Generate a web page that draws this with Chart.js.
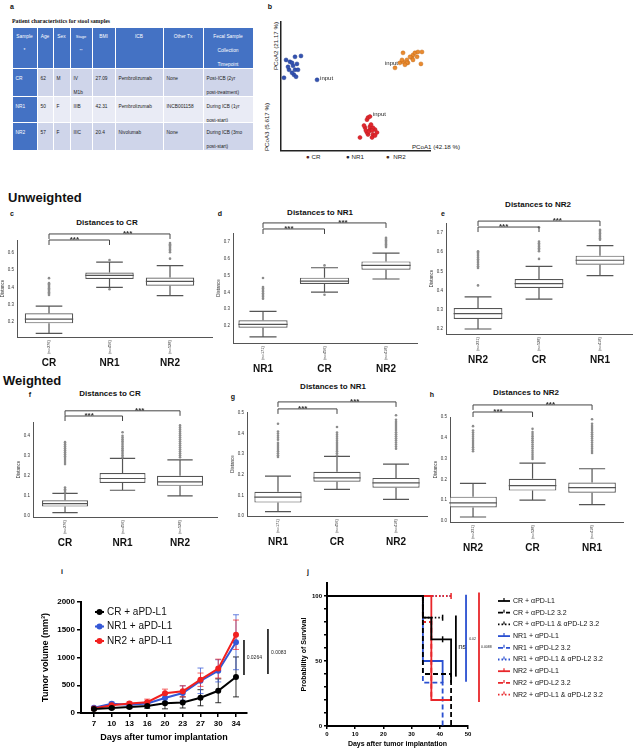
<!DOCTYPE html>
<html lang="en">
<head>
<meta charset="utf-8">
<title>Stool samples figure</title>
<script src="https://cdn.jsdelivr.net/npm/chart.js@4.4.1/dist/chart.umd.min.js"></script>
<style>
  body { margin: 0; width: 633px; height: 750px; position: relative; overflow: hidden; background: #fff;
         font-family: 'Liberation Sans', Arial, sans-serif; color: #111; }
  canvas { position: absolute; }
  .txt { position: absolute; white-space: nowrap; transform: translate(-50%, -50%); line-height: 1; }
  .esq { position: absolute; white-space: nowrap; transform: translateY(-50%); line-height: 1; }
  .rot { transform: translate(-50%, -50%) rotate(-90deg); }
  .letra { font-weight: bold; font-size: 7px; }
  .titulo { font-weight: bold; font-size: 8px; }
  .secao { font-weight: bold; font-size: 13px; }
  .pcoa { font-size: 6.2px; color: #222; }
  .cel { position: absolute; overflow: hidden; box-sizing: border-box; font-size: 4.8px; line-height: 14px;
         padding: 3px 0 0 3px; color: #222; white-space: nowrap; }
  .cab { color: #fff; text-align: center; padding: 2px 1px 0; }
</style>
</head>
<body>
<div class="txt letra" style="left:12px;top:6px">a</div>
<div class="txt letra" style="left:270px;top:6px">b</div>
<div class="esq" style="left:12px;top:21px;font:bold 5.8px 'Liberation Serif',serif">Patient characteristics for stool samples</div>

<div class="txt pcoa rot" style="left:276px;top:46px">PCoA2 (21.17 %)</div>
<div class="txt pcoa rot" style="left:267px;top:127px">PCoA3 (5.617 %)</div>
<div class="txt pcoa" style="left:436px;top:147px">PCoA1 (42.18 %)</div>
<div class="esq pcoa" style="left:306px;top:157px"><span style="color:#5a1d1d">&#9679;</span> CR</div>
<div class="esq pcoa" style="left:346px;top:157px"><span style="color:#1b1f3a">&#9679;</span> NR1</div>
<div class="esq pcoa" style="left:386px;top:157px"><span style="color:#4a2a14">&#9679;</span>&nbsp; NR2</div>

<div class="esq secao" style="left:8px;top:197px">Unweighted</div>
<div class="esq secao" style="left:3px;top:380px">Weighted</div>

<div class="txt letra" style="left:12px;top:213px">c</div>
<div class="txt letra" style="left:220px;top:213px">d</div>
<div class="txt letra" style="left:443px;top:213px">e</div>
<div class="txt letra" style="left:30px;top:394px">f</div>
<div class="txt letra" style="left:233px;top:396px">g</div>
<div class="txt letra" style="left:432px;top:394px">h</div>
<div class="txt letra" style="left:62px;top:571px">i</div>
<div class="txt letra" style="left:308px;top:571px">j</div>

<div class="txt titulo" style="left:107px;top:223px">Distances to CR</div>
<div class="txt titulo" style="left:320px;top:213px">Distances to NR1</div>
<div class="txt titulo" style="left:538px;top:205px">Distances to NR2</div>
<div class="txt titulo" style="left:110px;top:394px">Distances to CR</div>
<div class="txt titulo" style="left:333px;top:387px">Distances to NR1</div>
<div class="txt titulo" style="left:526px;top:393px">Distances to NR2</div>

<script>
// ---------- panel a: table ----------
const tabX = [12, 37, 53, 70, 92, 115, 163, 203, 253];
const tabY = [27, 68, 96, 122, 150];
const tabCab = ['Sample<br>*', 'Age', 'Sex', '<span style="font-size:4px;line-height:12px">Stage<br>**</span>', 'BMI', 'ICB', 'Other Tx', 'Fecal Sample<br>Collection<br>Timepoint'];
const tabLinhas = [
  ['CR', '62', 'M', 'IV<br>M1b', '27.09', 'Pembrolizumab', 'None', 'Post-ICB (2yr<br>post-treatment)'],
  ['NR1', '50', 'F', 'IIIB', '42.31', 'Pembrolizumab', 'INCB001158', 'During ICB (1yr<br>post-start)'],
  ['NR2', '57', 'F', 'IIIC', '20.4', 'Nivolumab', 'None', 'During ICB (3mo<br>post-start)']
];

// ---------- panel b: PCoA ----------
const pcoaCR = [[2.0, 56.6], [6.0, 69.0], [7.4, 68.2], [8.1, 65.9], [9.4, 62.8], [5.4, 62.8], [8.7, 58.9], [10.1, 57.4],
  [11.4, 62.8], [13.4, 73.6], [9.4, 72.9], [4.7, 65.1], [7.4, 60.5], [3.4, 70.5], [10.7, 67.4]];
const pcoaNR1 = [[53.0, 10.1], [57.7, 24.0], [58.4, 25.6], [56.4, 17.8], [59.7, 16.3], [61.7, 12.4], [63.1, 16.3], [64.4, 14.0],
  [58.4, 12.4], [61.1, 10.1], [57.7, 14.0], [59.7, 18.6], [61.7, 17.8], [57.0, 15.5], [63.1, 11.6], [59.0, 14.7], [61.1, 15.5],
  [60.4, 20.2], [55.7, 19.4]];
const pcoaNR2 = [[79.8, 68.2], [81.9, 69.0], [84.5, 70.5], [85.2, 68.2], [87.9, 72.1], [88.6, 74.4], [89.9, 76.0], [91.3, 72.9],
  [91.9, 76.7], [94.6, 76.7], [93.9, 67.4], [81.9, 76.0], [86.6, 72.9], [84.5, 68.2], [88.6, 70.5], [81.2, 70.5], [83.2, 66.7]];
const pcoaInput = [[24.2, 55.0], [59.7, 26.4], [76.5, 64.3]];

// ---------- panels c-h: boxplots [min, q1, median, q3, max] ----------
const cCats = ['CR', 'NR1', 'NR2'];
const cN = ['(n=276)', '(n=456)', '(n=528)'];
const cStats = [[0.134, 0.192, 0.217, 0.25, 0.292], [0.40, 0.449, 0.47, 0.486, 0.547], [0.353, 0.41, 0.435, 0.458, 0.526]];
const cOut = [[0.357, 0.365, 0.372, 0.38, 0.388, 0.395, 0.402, 0.41, 0.418, 0.425, 0.454], [0.39, 0.559],
  [0.567, 0.604, 0.612, 0.62, 0.628, 0.636, 0.644, 0.65, 0.657]];
const cTicks = [0.2, 0.3, 0.4, 0.5, 0.6];

const dCats = ['NR1', 'CR', 'NR2'];
const dN = ['(n=171)', '(n=456)', '(n=418)'];
const dStats = [[0.135, 0.19, 0.21, 0.234, 0.287], [0.402, 0.45, 0.468, 0.488, 0.547], [0.48, 0.535, 0.561, 0.585, 0.634]];
const dOut = [[0.363, 0.375, 0.385, 0.395, 0.405, 0.415, 0.425, 0.432, 0.486], [0.386, 0.561],
  [0.67, 0.678, 0.686, 0.694, 0.702, 0.71, 0.718, 0.726]];
const dTicks = [0.2, 0.3, 0.4, 0.5, 0.6, 0.7];

const eCats = ['NR2', 'CR', 'NR1'];
const eN = ['(n=231)', '(n=528)', '(n=418)'];
const eStats = [[0.2, 0.252, 0.28, 0.309, 0.367], [0.356, 0.414, 0.436, 0.46, 0.526], [0.478, 0.535, 0.558, 0.582, 0.634]];
const eOut = [[0.427, 0.518, 0.527, 0.536, 0.545, 0.554, 0.563, 0.572, 0.581, 0.59, 0.598, 0.605],
  [0.565, 0.605, 0.613, 0.621, 0.63, 0.638, 0.646, 0.655, 0.73], [0.665, 0.673, 0.681, 0.689, 0.697, 0.705, 0.712, 0.717]];
const eTicks = [0.2, 0.3, 0.4, 0.5, 0.6, 0.7];

const fCats = ['CR', 'NR1', 'NR2'];
const fN = ['(n=276)', '(n=456)', '(n=528)'];
const fStats = [[0.017, 0.047, 0.062, 0.079, 0.113], [0.129, 0.165, 0.188, 0.215, 0.289], [0.101, 0.151, 0.171, 0.202, 0.281]];
const fOut = [[0.118, 0.126, 0.134, 0.143, 0.26, 0.27, 0.28, 0.29, 0.30, 0.31, 0.32, 0.33, 0.34, 0.35, 0.36, 0.37],
  [0.294, 0.303, 0.312, 0.321, 0.33, 0.339, 0.348, 0.357, 0.366, 0.375, 0.384, 0.393, 0.402, 0.42],
  [0.294, 0.304, 0.314, 0.324, 0.334, 0.344, 0.354, 0.364, 0.374, 0.384, 0.394, 0.404, 0.414, 0.424, 0.434, 0.444, 0.454]];
const fTicks = [0.0, 0.1, 0.2, 0.3, 0.4];

const gCats = ['NR1', 'CR', 'NR2'];
const gN = ['(n=171)', '(n=456)', '(n=418)'];
const gStats = [[0.021, 0.065, 0.092, 0.118, 0.194], [0.129, 0.166, 0.185, 0.215, 0.29], [0.081, 0.137, 0.161, 0.185, 0.252]];
const gOut = [[0.287, 0.295, 0.305, 0.315, 0.325, 0.335, 0.345, 0.355, 0.37, 0.38, 0.39, 0.40, 0.41, 0.448],
  [0.295, 0.305, 0.315, 0.325, 0.335, 0.345, 0.355, 0.365, 0.375, 0.385, 0.395, 0.405, 0.432],
  [0.327, 0.337, 0.347, 0.357, 0.367, 0.377, 0.387, 0.397, 0.407, 0.417, 0.427, 0.437, 0.447, 0.457, 0.467, 0.489]];
const gTicks = [0.0, 0.1, 0.2, 0.3, 0.4, 0.5];

const hCats = ['NR2', 'CR', 'NR1'];
const hN = ['(n=231)', '(n=528)', '(n=418)'];
const hStats = [[0.019, 0.065, 0.087, 0.117, 0.181], [0.10, 0.146, 0.17, 0.203, 0.278], [0.079, 0.136, 0.16, 0.185, 0.251]];
const hOut = [[0.335, 0.345, 0.355, 0.365, 0.375, 0.385, 0.395, 0.405, 0.415, 0.425, 0.435, 0.456],
  [0.298, 0.308, 0.318, 0.328, 0.338, 0.348, 0.358, 0.368, 0.378, 0.388, 0.398, 0.408, 0.418, 0.428, 0.443],
  [0.327, 0.337, 0.347, 0.357, 0.367, 0.377, 0.387, 0.397, 0.407, 0.417, 0.427, 0.437, 0.447, 0.457, 0.467, 0.489]];
const hTicks = [0.0, 0.1, 0.2, 0.3, 0.4, 0.5];

// ---------- panel i: tumour volume ----------
const dias = ['7', '10', '13', '16', '20', '23', '27', '30', '34'];
const crVol = [70, 90, 110, 125, 175, 190, 275, 400, 650];
const crErr = [15, 25, 30, 40, 100, 100, 145, 215, 360];
const nr1Vol = [95, 165, 150, 170, 270, 360, 580, 760, 1275];
const nr1Err = [20, 30, 30, 40, 60, 130, 230, 200, 495];
const nr2Vol = [80, 140, 170, 195, 355, 390, 600, 800, 1410];
const nr2Err = [20, 35, 30, 55, 75, 100, 120, 170, 265];

// ---------- panel j: survival [day, %] ----------
const kmCR1 = [[0, 100], [34, 83.3], [37, 66.7], [41, 66.7], [44, 33.3]];
const kmCR2 = [[0, 100], [34, 40], [44, 0]];
const kmCR3 = [[0, 100], [34, 83.3], [41, 83.3]];
const kmNR1a = [[0, 100], [34, 50], [41, 33.3]];
const kmNR1b = [[0, 100], [34, 33.3], [41, 0]];
const kmNR1c = [[0, 100], [44, 100]];
const kmNR2a = [[0, 100], [37, 20], [44, 20]];
const kmNR2b = [[0, 100], [34, 80], [37, 20]];
const kmNR2c = [[0, 100], [44, 100]];

Chart.defaults.font.family = "'Liberation Sans', Arial, sans-serif";
Chart.defaults.color = '#222';
Chart.defaults.animation = false;
Chart.defaults.plugins.legend.display = false;
Chart.defaults.plugins.tooltip.enabled = false;
const FONTE = "'Liberation Sans', Arial, sans-serif";

function novoCanvas(left, top, w, h) {
  const c = document.createElement('canvas');
  c.width = w;
  c.height = h;
  c.style.left = left + 'px';
  c.style.top = top + 'px';
  c.style.width = w + 'px';
  c.style.height = h + 'px';
  document.body.appendChild(c);
  return c;
}

function montarTabela() {
  [tabCab, ...tabLinhas].forEach((linha, r) => {
    linha.forEach((txt, c) => {
      const d = document.createElement('div');
      const azul = r === 0 || c === 0;
      d.className = 'cel' + (r === 0 ? ' cab' : '');
      d.style.left = (tabX[c] + 0.5) + 'px';
      d.style.top = (tabY[r] + 0.5) + 'px';
      d.style.width = (tabX[c + 1] - tabX[c] - 1) + 'px';
      d.style.height = (tabY[r + 1] - tabY[r] - 1) + 'px';
      d.style.background = azul ? '#4472C4' : (r === 2 ? '#E9EBF5' : '#CFD5EA');
      if (azul) d.style.color = '#fff';
      d.innerHTML = txt;
      document.body.appendChild(d);
    });
  });
}

// ---------- PCoA ----------
function graficoPcoa() {
  const cv = novoCanvas(262, 15, 178, 140);
  const pts = arr => arr.map(([x, y]) => ({ x, y }));
  const grupos = [
    { dados: [...pcoaCR, pcoaInput[0]], cor: '#3352b2', borda: '#223d8c' },
    { dados: [...pcoaNR1, pcoaInput[1]], cor: '#e3272d', borda: '#b81c22' },
    { dados: [...pcoaNR2, pcoaInput[2]], cor: '#ea8a2e', borda: '#c26a18' }
  ];
  const desvio = [[3, -1, 'left'], [3, -2, 'left'], [3, -5, 'right']];

  new Chart(cv, {
    type: 'scatter',
    data: {
      datasets: grupos.map(g => ({
        data: pts(g.dados), backgroundColor: g.cor, borderColor: g.borda, borderWidth: 0.5, pointRadius: 2
      }))
    },
    options: {
      responsive: false, devicePixelRatio: 1,
      layout: { padding: { top: 7, right: 10, left: 0, bottom: 0 } },
      scales: {
        x: { min: 0, max: 100, ticks: { display: false }, grid: { display: false, drawTicks: false },
             border: { color: '#222', width: 1.5 }, afterFit: s => { s.height = 4; } },
        y: { min: 0, max: 100, ticks: { display: false }, grid: { display: false, drawTicks: false },
             border: { color: '#222', width: 1.5 }, afterFit: s => { s.width = 19; } }
      }
    },
    plugins: [{
      id: 'rotulosInput',
      afterDatasetsDraw(chart) {
        const { ctx, scales: { x, y } } = chart;
        ctx.save();
        ctx.font = `6px ${FONTE}`;
        ctx.fillStyle = '#222';
        ctx.textBaseline = 'middle';
        pcoaInput.forEach(([vx, vy], i) => {
          ctx.textAlign = desvio[i][2];
          ctx.fillText('input', x.getPixelForValue(vx) + desvio[i][0], y.getPixelForValue(vy) + desvio[i][1]);
        });
        ctx.restore();
      }
    }]
  });
}

// ---------- boxplots ----------
function pluginCaixas(p) {
  return {
    id: 'caixas',
    afterDatasetsDraw(chart) {
      const { ctx, scales: { x, y }, chartArea } = chart;
      const meta = chart.getDatasetMeta(0);
      ctx.save();
      p.stats.forEach((s, i) => {
        const cx = x.getPixelForValue(i);
        const hw = meta.data[i].width / 2;
        const cap = hw * 0.55;
        const [lo, q1, med, q3, hi] = s.map(v => y.getPixelForValue(v));
        ctx.strokeStyle = '#555';
        ctx.lineWidth = 1.2;
        ctx.beginPath();
        ctx.moveTo(cx, q3); ctx.lineTo(cx, hi);
        ctx.moveTo(cx - cap, hi); ctx.lineTo(cx + cap, hi);
        ctx.moveTo(cx, q1); ctx.lineTo(cx, lo);
        ctx.moveTo(cx - cap, lo); ctx.lineTo(cx + cap, lo);
        ctx.moveTo(cx - hw, med); ctx.lineTo(cx + hw, med);
        ctx.stroke();

        ctx.fillStyle = '#8c8c8c';
        p.outs[i].forEach(v => {
          ctx.beginPath();
          ctx.arc(cx, y.getPixelForValue(v), 1.3, 0, Math.PI * 2);
          ctx.fill();
        });

        ctx.save();
        ctx.translate(cx, chartArea.bottom + 17);
        ctx.rotate(-Math.PI / 2);
        ctx.font = `4px ${FONTE}`;
        ctx.fillStyle = '#333';
        ctx.textAlign = 'left';
        ctx.textBaseline = 'middle';
        ctx.fillText(p.ns[i], 0, 0);
        ctx.restore();
      });

      // significance brackets
      ctx.strokeStyle = '#444';
      ctx.lineWidth = 1;
      ctx.fillStyle = '#333';
      ctx.font = `bold 8px ${FONTE}`;
      ctx.textAlign = 'center';
      ctx.textBaseline = 'alphabetic';
      p.chaves.forEach(([a, b, nivel], k) => {
        const x0 = x.getPixelForValue(a), x1 = x.getPixelForValue(b), yy = y.getPixelForValue(nivel);
        ctx.beginPath();
        ctx.moveTo(x0, yy + 5); ctx.lineTo(x0, yy); ctx.lineTo(x1, yy); ctx.lineTo(x1, yy + 5);
        ctx.stroke();
        const f = k === 0 ? 0.42 : 0.65;
        ctx.fillText('***', x0 + (x1 - x0) * f, yy + 2);
      });
      ctx.restore();
    }
  };
}

function painelCaixas(p) {
  const LARG_Y = 24, TOPO = 24, BASE = 36;
  const cv = novoCanvas(p.ax - LARG_Y, p.at - TOPO, p.ar - p.ax + LARG_Y + 4, p.ab - p.at + TOPO + BASE);
  new Chart(cv, {
    type: 'bar',
    data: {
      datasets: [{
        data: p.stats.map((s, i) => ({ x: i, y: [s[1], s[3]] })),
        backgroundColor: '#fff', borderColor: '#555', borderWidth: 1.2, borderSkipped: false,
        barPercentage: 0.8, categoryPercentage: 1
      }]
    },
    options: {
      responsive: false, devicePixelRatio: 1,
      layout: { padding: { top: TOPO, right: 4, left: 0, bottom: 0 } },
      scales: {
        x: {
          type: 'linear', min: p.xmin, max: p.xmax, offset: false,
          afterBuildTicks: s => { s.ticks = p.cats.map((c, i) => ({ value: i })); },
          afterFit: s => { s.height = BASE; },
          ticks: { callback: v => p.cats[v], font: { size: 10, weight: 'bold' }, color: '#111', padding: 20,
                   maxRotation: 0, autoSkip: false },
          grid: { display: false, drawTicks: false },
          border: { color: '#555', width: 1 }
        },
        y: {
          min: p.ymin, max: p.ymax,
          afterBuildTicks: s => { s.ticks = p.ticks.map(v => ({ value: v })); },
          afterFit: s => { s.width = LARG_Y; },
          ticks: { callback: v => v.toFixed(1), font: { size: 4.5 }, color: '#333', padding: 3 },
          grid: { display: false, drawTicks: false },
          border: { color: '#555', width: 1 },
          title: { display: true, text: 'Distance', font: { size: 4.5 }, color: '#333', padding: { top: 7, bottom: 0 } }
        }
      }
    },
    plugins: [pluginCaixas(p)]
  });
}

// ---------- tumour growth ----------
function graficoVolume() {
  const series = [
    { nome: 'CR + aPD-L1', valores: crVol, erros: crErr, cor: '#000000', corErro: 'rgba(0,0,0,0.8)', ordem: 0 },
    { nome: 'NR1 + aPD-L1', valores: nr1Vol, erros: nr1Err, cor: '#3558d6', corErro: 'rgba(53,88,214,0.75)', ordem: 2 },
    { nome: 'NR2 + aPD-L1', valores: nr2Vol, erros: nr2Err, cor: '#f2201f', corErro: 'rgba(242,32,31,0.7)', ordem: 1 }
  ];
  const sig = [[8.45, 685, 1315, '0.0264', 8.6, 991], [9.8, 703, 1514, '0.0083', 9.97, 1081]];

  const cv = novoCanvas(36, 594, 259, 153);
  new Chart(cv, {
    type: 'line',
    data: {
      datasets: series.map(s => ({
        data: s.valores.map((v, i) => ({ x: i, y: v })),
        borderColor: s.cor, backgroundColor: s.cor, borderWidth: 2, tension: 0,
        pointRadius: 3, pointBorderWidth: 0, pointBackgroundColor: s.cor, order: s.ordem
      }))
    },
    options: {
      responsive: false, devicePixelRatio: 1,
      layout: { padding: { top: 8, right: 48, left: 0, bottom: 0 } },
      scales: {
        x: {
          type: 'linear', min: -0.73, max: 8.62,
          afterBuildTicks: s => { s.ticks = dias.map((d, i) => ({ value: i })); },
          afterFit: s => { s.height = 34; },
          ticks: { callback: v => dias[v], font: { size: 8, weight: 'bold' }, color: '#000', padding: 2,
                   maxRotation: 0, autoSkip: false },
          grid: { display: true, drawOnChartArea: false, tickLength: 4, color: '#000', lineWidth: 1.5 },
          border: { color: '#000', width: 2 },
          title: { display: true, text: 'Days after tumor implantation', font: { size: 9, weight: 'bold' },
                   color: '#000', padding: 4 }
        },
        y: {
          min: 0, max: 2000,
          afterFit: s => { s.width = 45; },
          ticks: { stepSize: 500, callback: v => String(v), font: { size: 8, weight: 'bold' }, color: '#000', padding: 2 },
          grid: { display: true, drawOnChartArea: false, tickLength: 4, color: '#000', lineWidth: 1.5 },
          border: { color: '#000', width: 2 },
          title: { display: true, text: 'Tumor volume (mm³)', font: { size: 9, weight: 'bold' },
                   color: '#000', padding: { top: 4, bottom: 0 } }
        }
      }
    },
    plugins: [{
      id: 'barrasErro',
      beforeDatasetsDraw(chart) {
        const { ctx, scales: { x, y } } = chart;
        ctx.save();
        ctx.lineWidth = 1;
        series.forEach(s => {
          ctx.strokeStyle = s.corErro;
          s.valores.forEach((v, i) => {
            const px = x.getPixelForValue(i);
            const cima = y.getPixelForValue(v + s.erros[i]);
            const baixo = y.getPixelForValue(Math.max(0, v - s.erros[i]));
            ctx.beginPath();
            ctx.moveTo(px, cima); ctx.lineTo(px, baixo);
            ctx.moveTo(px - 3, cima); ctx.lineTo(px + 3, cima);
            ctx.moveTo(px - 3, baixo); ctx.lineTo(px + 3, baixo);
            ctx.stroke();
          });
        });
        ctx.restore();
      },
      afterDraw(chart) {
        const { ctx, scales: { x, y }, chartArea } = chart;
        ctx.save();
        // legend
        ctx.font = `10px ${FONTE}`;
        ctx.textBaseline = 'middle';
        ctx.textAlign = 'left';
        series.forEach((s, i) => {
          const ly = chartArea.top + 10 + i * 14.5;
          const lx = chartArea.left + 14;
          ctx.strokeStyle = s.cor;
          ctx.fillStyle = s.cor;
          ctx.lineWidth = 2;
          ctx.beginPath();
          ctx.moveTo(lx, ly); ctx.lineTo(lx + 9, ly);
          ctx.stroke();
          ctx.beginPath();
          ctx.arc(lx + 4.5, ly, 3, 0, Math.PI * 2);
          ctx.fill();
          ctx.fillStyle = '#111';
          ctx.fillText(s.nome, lx + 12, ly);
        });
        // p-values
        ctx.strokeStyle = '#000';
        ctx.lineWidth = 1.5;
        ctx.fillStyle = '#222';
        ctx.font = `5px ${FONTE}`;
        sig.forEach(([xv, y0, y1, txt, tx, ty]) => {
          const px = x.getPixelForValue(xv);
          ctx.beginPath();
          ctx.moveTo(px, y.getPixelForValue(y0));
          ctx.lineTo(px, y.getPixelForValue(y1));
          ctx.stroke();
          ctx.fillText(txt, x.getPixelForValue(tx), y.getPixelForValue(ty));
        });
        ctx.restore();
      }
    }]
  });
}

// ---------- survival ----------
function graficoSobrevida() {
  const curvas = [
    { nome: 'CR + αPD-L1', dados: kmCR1, cor: '#000', traco: [], cens: [41] },
    { nome: 'CR + αPD-L2 3.2', dados: kmCR2, cor: '#000', traco: [5, 3], cens: [] },
    { nome: 'CR + αPD-L1 & αPD-L2 3.2', dados: kmCR3, cor: '#000', traco: [1.5, 2], cens: [41] },
    { nome: 'NR1 + αPD-L1', dados: kmNR1a, cor: '#2a4fd0', traco: [], cens: [] },
    { nome: 'NR1 + αPD-L2 3.2', dados: kmNR1b, cor: '#2a4fd0', traco: [5, 3], cens: [] },
    { nome: 'NR1 + αPD-L1 & αPD-L2 3.2', dados: kmNR1c, cor: '#2a4fd0', traco: [1.5, 2], cens: [] },
    { nome: 'NR2 + αPD-L1', dados: kmNR2a, cor: '#e8262a', traco: [], cens: [] },
    { nome: 'NR2 + αPD-L2 3.2', dados: kmNR2b, cor: '#e8262a', traco: [5, 3], cens: [] },
    { nome: 'NR2 + αPD-L1 & αPD-L2 3.2', dados: kmNR2c, cor: '#e8262a', traco: [1.5, 2], cens: [44] }
  ];
  const ordem = [0, 1, 2, 6, 7, 8, 3, 4, 5];
  const sig = [
    [45.7, 38, 85, '#000', 'ns', 46.5, 61, 8],
    [49.3, 34, 101, '#2a4fd0', '0.02', 50.4, 67, 3.5],
    [53.9, 18.5, 102.7, '#e8262a', '0.0088', 54.6, 61, 3.5]
  ];

  const cv = novoCanvas(296, 575, 337, 175);
  new Chart(cv, {
    type: 'line',
    data: {
      datasets: curvas.map((c, i) => ({
        label: c.nome,
        data: c.dados.map(([x, y]) => ({ x, y })),
        borderColor: c.cor, borderDash: c.traco, borderWidth: 1.8, stepped: 'before', fill: false,
        pointStyle: 'line', rotation: 90, pointBorderColor: c.cor, pointBorderWidth: 1.5,
        pointRadius: ctx => (ctx.raw && c.cens.includes(ctx.raw.x) ? 3 : 0),
        order: ordem[i]
      }))
    },
    options: {
      responsive: false, devicePixelRatio: 1,
      layout: { padding: { top: 8, right: 165, left: 0, bottom: 0 } },
      scales: {
        x: {
          type: 'linear', min: 0, max: 50,
          afterFit: s => { s.height = 24; },
          ticks: { stepSize: 10, font: { size: 6, weight: 'bold' }, color: '#000', padding: 2 },
          grid: { display: true, drawOnChartArea: false, tickLength: 3, color: '#000', lineWidth: 1.5 },
          border: { color: '#000', width: 2 },
          title: { display: true, text: 'Days after tumor implantation', font: { size: 7, weight: 'bold' },
                   color: '#000', padding: 2 }
        },
        y: {
          min: 0, max: 110,
          afterBuildTicks: s => { s.ticks = [0, 10, 20, 30, 40, 50, 60, 70, 80, 90, 100].map(v => ({ value: v })); },
          afterFit: s => { s.width = 31; },
          ticks: { callback: v => (v % 50 === 0 ? v : ''), font: { size: 6, weight: 'bold' }, color: '#000', padding: 2 },
          grid: { display: true, drawOnChartArea: false, tickLength: 3, color: '#000', lineWidth: 1.5 },
          border: { color: '#000', width: 2 },
          title: { display: true, text: 'Probability of Survival', font: { size: 7, weight: 'bold' },
                   color: '#000', padding: { top: 4, bottom: 0 } }
        }
      }
    },
    plugins: [{
      id: 'legendaSig',
      afterDraw(chart) {
        const { ctx, scales: { x, y }, chartArea } = chart;
        ctx.save();
        sig.forEach(([xv, y0, y1, cor, txt, tx, ty, tam]) => {
          const px = x.getPixelForValue(xv);
          ctx.strokeStyle = cor;
          ctx.lineWidth = 1.8;
          ctx.setLineDash([]);
          ctx.beginPath();
          ctx.moveTo(px, y.getPixelForValue(y0));
          ctx.lineTo(px, y.getPixelForValue(y1));
          ctx.stroke();
          ctx.fillStyle = '#222';
          ctx.font = `${tam}px ${FONTE}`;
          ctx.textAlign = 'left';
          ctx.textBaseline = 'middle';
          ctx.fillText(txt, x.getPixelForValue(tx), y.getPixelForValue(ty));
        });

        ctx.font = `7px ${FONTE}`;
        curvas.forEach((c, i) => {
          const ly = chartArea.top + 18 + i * 11.7;
          const lx = chartArea.right + 30;
          ctx.strokeStyle = c.cor;
          ctx.lineWidth = 1.8;
          ctx.setLineDash(c.traco);
          ctx.beginPath();
          ctx.moveTo(lx, ly); ctx.lineTo(lx + 12, ly);
          ctx.stroke();
          ctx.setLineDash([]);
          ctx.lineWidth = 1.2;
          ctx.beginPath();
          ctx.moveTo(lx + 6, ly); ctx.lineTo(lx + 6, ly - 3);
          ctx.stroke();
          ctx.fillStyle = '#111';
          ctx.fillText(c.nome, lx + 15, ly);
        });
        ctx.restore();
      }
    }]
  });
}

montarTabela();
graficoPcoa();
painelCaixas({ ax: 17, ar: 212, at: 240, ab: 337, ymin: 0.113, ymax: 0.675, xmin: -0.529, xmax: 2.694,
  cats: cCats, ns: cN, stats: cStats, outs: cOut, ticks: cTicks, chaves: [[0, 1, 0.675], [0, 2, 0.71]] });
painelCaixas({ ax: 233, ar: 417, at: 233, ab: 343, ymin: 0.099, ymax: 0.754, xmin: -0.488, xmax: 2.504,
  cats: dCats, ns: dN, stats: dStats, outs: dOut, ticks: dTicks, chaves: [[0, 1, 0.778], [0, 2, 0.814]] });
painelCaixas({ ax: 446, ar: 632, at: 223, ab: 334, ymin: 0.174, ymax: 0.752, xmin: -0.525, xmax: 2.525,
  cats: eCats, ns: eN, stats: eStats, outs: eOut, ticks: eTicks, chaves: [[0, 1, 0.731], [0, 2, 0.762]] });
painelCaixas({ ax: 33, ar: 217, at: 422, ab: 517, ymin: -0.005, ymax: 0.471, xmin: -0.557, xmax: 2.643,
  cats: fCats, ns: fN, stats: fStats, outs: fOut, ticks: fTicks, chaves: [[0, 1, 0.501], [0, 2, 0.527]] });
painelCaixas({ ax: 247, ar: 427, at: 412, ab: 516, ymin: 0, ymax: 0.505, xmin: -0.525, xmax: 2.525,
  cats: gCats, ns: gN, stats: gStats, outs: gOut, ticks: gTicks, chaves: [[0, 1, 0.52], [0, 2, 0.554]] });
painelCaixas({ ax: 450, ar: 623, at: 417, ab: 522, ymin: -0.005, ymax: 0.50, xmin: -0.387, xmax: 2.52,
  cats: hCats, ns: hN, stats: hStats, outs: hOut, ticks: hTicks, chaves: [[0, 1, 0.524], [0, 2, 0.558]] });
graficoVolume();
graficoSobrevida();
</script>
</body>
</html>
